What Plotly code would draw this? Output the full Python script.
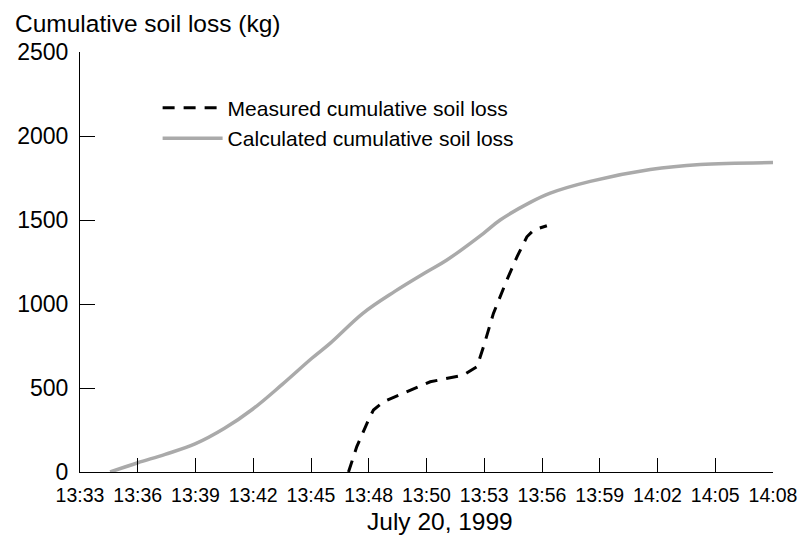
import plotly.graph_objects as go

# Time in minutes after 13:33 (July 20, 1999)
calc_t = [1.52, 2.92, 4.3, 5.81, 7.3, 8.73, 10.2, 11.71, 12.63, 14.30, 15.9, 17.52, 18.53,
          20.38, 21.22, 22.74, 23.75, 25.77, 28.80, 31.33, 35.0]
calc_kg = [0, 55, 105, 167, 260, 375, 520, 677, 766, 946, 1075, 1192, 1262,
           1421, 1500, 1605, 1660, 1730, 1800, 1830, 1842]

meas_t = [13.56, 13.98, 14.57, 14.82, 15.33, 16.51, 17.69, 19.37, 20.05,
          20.38, 20.88, 21.56, 22.07, 22.57, 22.91, 23.58]
meas_kg = [0, 151, 310, 369, 418, 478, 537, 577, 627,
           746, 944, 1143, 1281, 1400, 1440, 1466]

tick_labels = ["13:33", "13:36", "13:39", "13:42", "13:45", "13:48", "13:50",
               "13:53", "13:56", "13:59", "14:02", "14:05", "14:08"]
tick_pos = [i * 35 / 12 for i in range(len(tick_labels))]
y_ticks = [0, 500, 1000, 1500, 2000, 2500]

FONT = "Liberation Sans, Arial, sans-serif"

fig = go.Figure()
fig.add_trace(go.Scatter(
    x=meas_t, y=meas_kg, mode="lines", name="Measured cumulative soil loss",
    line=dict(color="black", width=3, dash="12px,9px")))
fig.add_trace(go.Scatter(
    x=calc_t, y=calc_kg, mode="lines", name="Calculated cumulative soil loss",
    line=dict(color="#aaaaaa", width=3.5, shape="spline", smoothing=1.0)))

fig.update_layout(
    width=803, height=537,
    margin=dict(l=80, r=30, t=52, b=65, autoexpand=False),
    plot_bgcolor="white", paper_bgcolor="white",
    font=dict(family=FONT, color="black"),
    showlegend=True,
    legend=dict(x=0.112, y=0.915, xanchor="left", yanchor="top",
                bgcolor="rgba(0,0,0,0)", font=dict(size=21, family=FONT),
                tracegroupgap=0, itemwidth=60),
    xaxis=dict(range=[0, 35], tickvals=tick_pos, ticktext=tick_labels,
               showline=True, linecolor="black", linewidth=1.2,
               ticks="inside", ticklen=14, tickcolor="black", tickwidth=1.2,
               showgrid=False, zeroline=False, automargin=False,
               tickfont=dict(size=19.5, family=FONT), ticklabelstandoff=5),
    yaxis=dict(range=[0, 2500], tickvals=y_ticks,
               showline=True, linecolor="black", linewidth=1.2,
               ticks="inside", ticklen=15, tickcolor="black", tickwidth=1.2,
               showgrid=False, zeroline=False, automargin=False,
               tickfont=dict(size=23, family=FONT), ticklabelstandoff=6),
    annotations=[
        dict(text="Cumulative soil loss (kg)", xref="paper", yref="paper",
             x=-0.097, y=1.069, xanchor="left", yanchor="middle",
             showarrow=False, font=dict(size=24.5, family=FONT)),
        dict(text="July 20, 1999", xref="paper", yref="paper",
             x=0.519, y=-0.117, xanchor="center", yanchor="middle",
             showarrow=False, font=dict(size=24.5, family=FONT)),
    ],
)

fig.write_html("out.html")
